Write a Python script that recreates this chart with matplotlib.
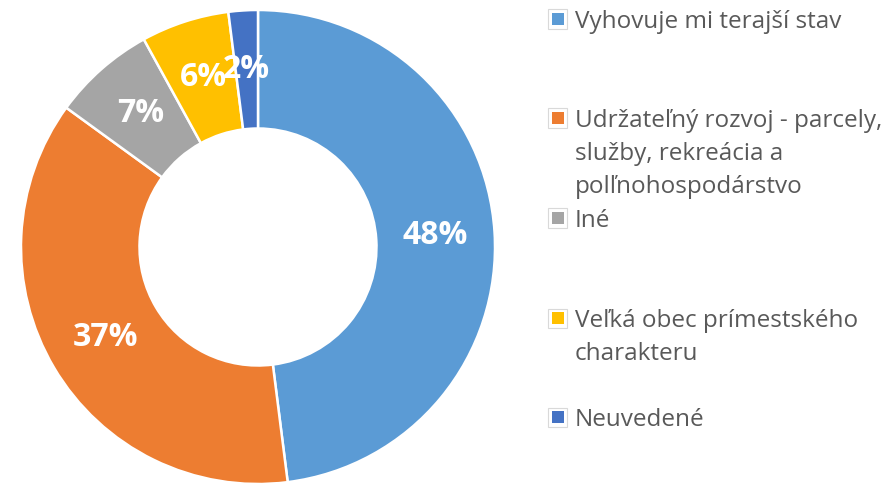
import matplotlib.pyplot as plt
from matplotlib.patches import Rectangle

plt.rcParams['font.family'] = ['Open Sans', 'DejaVu Sans']

# Data
labels = ["Vyhovuje mi terajší stav",
          "Udržateľný rozvoj - parcely,\nslužby, rekreácia a\npolľnohospodárstvo",
          "Iné",
          "Veľká obec prímestského\ncharakteru",
          "Neuvedené"]
shares = [48, 37, 7, 6, 2]
colors = ["#5B9BD5", "#ED7D31", "#A5A5A5", "#FFC000", "#4472C4"]

# legend rows: first-line baseline, pixels from top
legend_base = [28, 127, 227, 327, 426]
line_pitch = 33

W, H = 896, 484
fig = plt.figure(figsize=(W / 100, H / 100), dpi=100)
R = 237
cx, cy = 258, 247
ax = fig.add_axes([(cx - R) / W, (H - cy - R) / H, 2 * R / W, 2 * R / H])

wedges, texts, autotexts = ax.pie(
    shares, colors=colors, startangle=90, counterclock=False, radius=1,
    autopct=lambda p: f"{p:.0f}%", pctdistance=0.75,
    wedgeprops=dict(width=0.5, edgecolor="white", linewidth=1.8),
    textprops=dict(color="white", fontsize=23, fontweight="bold"))
ax.set_xlim(-1, 1)
ax.set_ylim(-1, 1)
ax.axis("off")

# legend drawn by hand
for lab, col, yb in zip(labels, colors, legend_base):
    y = yb - 9
    fig.patches.append(Rectangle((548 / W, (H - y - 9.5) / H), 19 / W, 19 / H,
                                 transform=fig.transFigure, facecolor="white",
                                 edgecolor="#D9D9D9", linewidth=0.8))
    fig.patches.append(Rectangle((551.5 / W, (H - y - 6) / H), 12 / W, 12 / H,
                                 transform=fig.transFigure, facecolor=col,
                                 edgecolor="none"))
    for i, line in enumerate(lab.split("\n")):
        fig.text(575 / W, (H - yb - i * line_pitch) / H, line, ha="left",
                 va="baseline", fontsize=17.5, color="#595959")

fig.savefig("out.png", dpi=100, facecolor="white")
